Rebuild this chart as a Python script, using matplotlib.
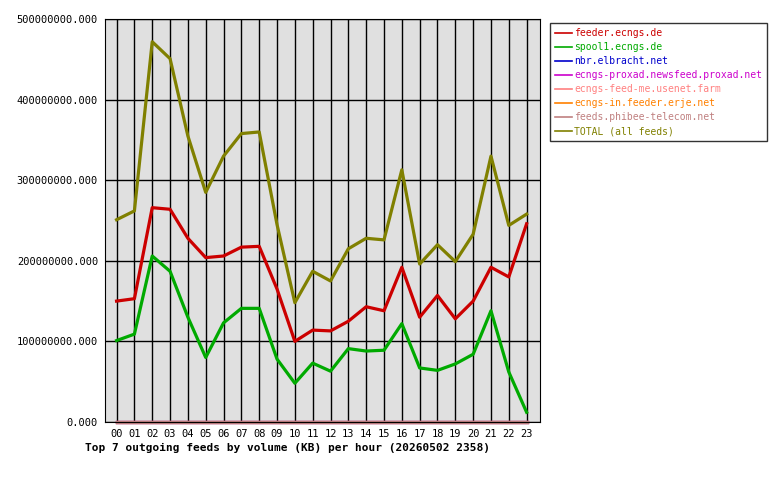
import numpy as np
import matplotlib
matplotlib.use("Agg")
import matplotlib.pyplot as plt

hours = ["%02d" % h for h in range(24)]
feeder = [150, 153, 266, 264, 228, 204, 206, 217, 218, 165, 100, 114, 113, 125, 143, 138, 192, 130, 157, 128, 150, 192, 180, 246]
spool1 = [101, 109, 206, 187, 130, 80, 123, 141, 141, 78, 48, 73, 63, 91, 88, 89, 122, 67, 64, 72, 84, 138, 62, 12]
total = [251, 262, 472, 451, 355, 285, 330, 358, 360, 245, 148, 187, 175, 215, 228, 226, 313, 196, 220, 199, 233, 330, 244, 258]
zeros = [0] * 24

series = [
    ("feeder.ecngs.de", feeder, "#cc0000"),
    ("spool1.ecngs.de", spool1, "#00aa00"),
    ("nbr.elbracht.net", zeros, "#0000cc"),
    ("ecngs-proxad.newsfeed.proxad.net", zeros, "#cc00cc"),
    ("ecngs-feed-me.usenet.farm", zeros, "#ff8080"),
    ("ecngs-in.feeder.erje.net", zeros, "#ff8000"),
    ("feeds.phibee-telecom.net", zeros, "#c08080"),
    ("TOTAL (all feeds)", total, "#808000"),
]

plt.rcParams["font.family"] = "DejaVu Sans Mono"
fig = plt.figure(figsize=(7.8, 4.8), dpi=100)
ax = fig.add_axes([0.1346, 0.121, 0.5577, 0.839])
ax.set_facecolor("#e0e0e0")
x = np.arange(24)
handles = []
for name, vals, col in series:
    h, = ax.plot(x, np.array(vals) * 1e6, color=col, lw=2.3, clip_on=False)
    handles.append((h, name, col))

ax.set_xlim(-0.65, 23.75)
ax.set_ylim(0, 5e8)
ax.set_xticks(x)
ax.set_xticklabels(hours, fontsize=7.5)
ax.set_yticks(np.arange(0, 6e8, 1e8))
ax.set_yticklabels(["%d.000" % v if v else "0.000" for v in np.arange(0, 6e8, 1e8).astype(int)], fontsize=7.5)
ax.grid(True, color="black", lw=1)
ax.set_axisbelow(True)
ax.tick_params(length=0, pad=5)
ax.set_xlabel("Top 7 outgoing feeds by volume (KB) per hour (20260502 2358)",
              fontsize=8, fontweight="bold", x=0.42, labelpad=3)

leg = fig.legend([h for h, _, _ in handles], [n for _, n, _ in handles],
                 loc="upper left", bbox_to_anchor=(0.699, 0.962), fontsize=7,
                 frameon=True, fancybox=False, edgecolor="black", handlelength=1.8,
                 handletextpad=0.2, labelspacing=0.42, borderpad=0.5)
leg.get_frame().set_linewidth(1)
for t, (_, _, c) in zip(leg.get_texts(), handles):
    t.set_color(c)
for l in leg.get_lines():
    l.set_linewidth(1.2)

fig.savefig("out.png", dpi=100)
